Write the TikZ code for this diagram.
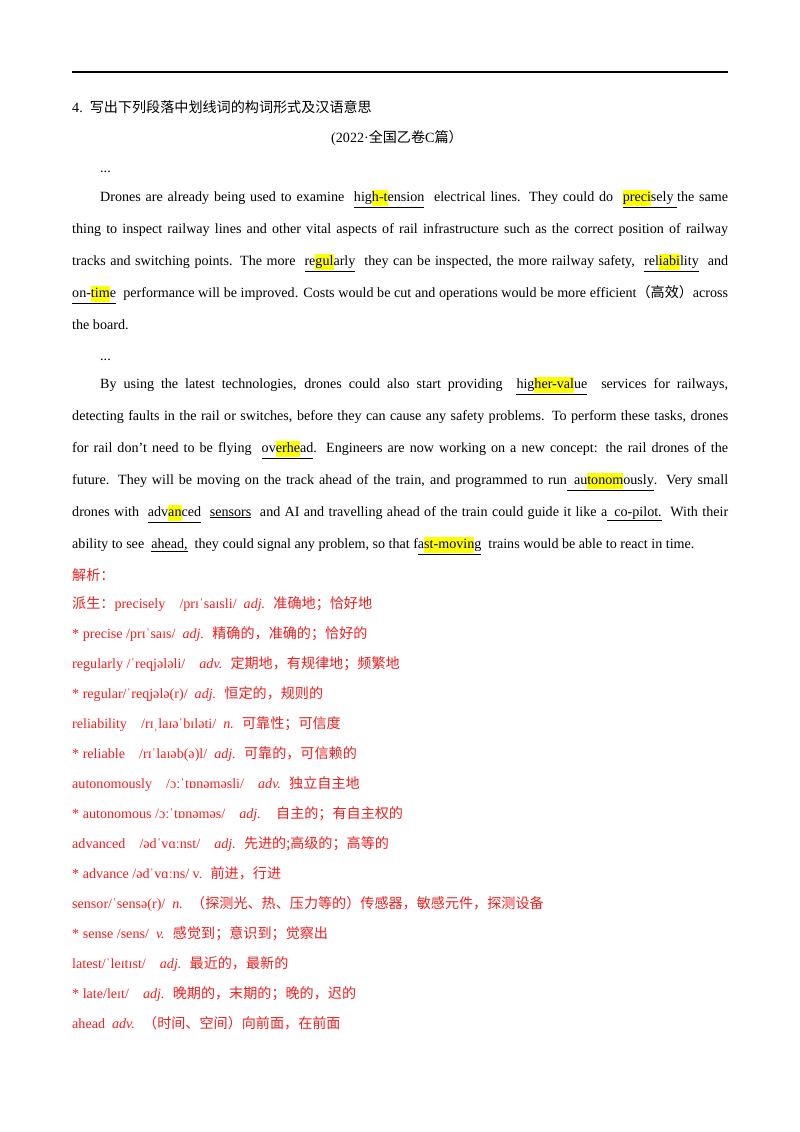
\documentclass[tikz,border=0pt]{standalone}
\usepackage{fontspec}
\setmainfont{Liberation Serif}
\newfontfamily\cjk{Noto Sans CJK SC}[Scale=1.0]
\definecolor{hly}{RGB}{255,255,0}
\definecolor{ans}{RGB}{240,30,30}
\newcommand{\hlx}[1]{{\setlength\fboxsep{0pt}\colorbox{hly}{\strut #1}}}
\newcommand{\zh}[1]{{\cjk #1}}
\newcommand{\ul}[1]{\underline{#1}}
\begin{document}
\begin{tikzpicture}[x=1pt,y=-1pt,
  ln/.style={anchor=base west,inner sep=0pt,font=\fontsize{14.1}{16}\selectfont},
  an/.style={ln,text=ans}]
\useasboundingbox (0,0) rectangle (800,1132);
\draw[line width=1.6pt] (72,72) coordinate (r1) -- (728,72) coordinate (r2);
\node[ln] (h1) at (72,112) {4.\ \ \zh{写出下列段落中划线词的构词形式及汉语意思}};
\node[ln,anchor=base] (h2) at (397,142) {(2022·\zh{全国乙卷}C\zh{篇）}};
\node[ln] (d1) at (100,172) {...};
\node[ln] (p1) at (72,201) {\makebox[656pt][s]{\hspace*{28pt}Drones are already being used to examine \ \ul{hig\hlx{h-t}ension} \ electrical lines. They could do \ \ul{\hlx{preci}sely\ }the same}};
\node[ln] (p2) at (72,233) {\makebox[656pt][s]{thing to inspect railway lines and other vital aspects of rail infrastructure such as the correct position of railway}};
\node[ln] (p3) at (72,265) {\makebox[656pt][s]{tracks and switching points. The more \ \ul{re\hlx{gul}arly} \ they can be inspected, the more railway safety, \ \ul{rel\hlx{iabi}lity} \ and}};
\node[ln] (p4) at (72,297) {\makebox[656pt][s]{\ul{on-\hlx{tim}e} \ performance will be improved. Costs would be cut and operations would be more efficient\zh{（高效）}across}};
\node[ln] (p5) at (72,329) {the board.};
\node[ln] (d2) at (100,360) {...};
\node[ln] (q1) at (72,388) {\makebox[656pt][s]{\hspace*{28pt}By using the latest technologies, drones could also start providing \ \ul{hig\hlx{her-val}ue} \ services for railways,}};
\node[ln] (q2) at (72,420) {\makebox[656pt][s]{detecting faults in the rail or switches, before they can cause any safety problems. To perform these tasks, drones}};
\node[ln] (q3) at (72,452) {\makebox[656pt][s]{for rail don't need to be flying \ \ul{ov\hlx{erhe}ad}. Engineers are now working on a new concept: the rail drones of the}};
\node[ln] (q4) at (72,484) {\makebox[656pt][s]{future. They will be moving on the track ahead of the train, and programmed to run\ul{\ \ au\hlx{tonom}ously}. Very small}};
\node[ln] (q5) at (72,516) {\makebox[656pt][s]{drones with \ \ul{adv\hlx{an}ced} \ \ul{sensors} \ and AI and travelling ahead of the train could guide it like a\ul{\ \ co-pilot.} \ With their}};
\node[ln] (q6) at (72,548) {ability to see \ \ul{ahead,} \ they could signal any problem, so that f\ul{a\hlx{st-movin}g} \ trains would be able to react in time.};
\node[an] (a0) at (72,580) {\zh{解析：}};
\node[an] (a1) at (72,608) {\zh{派生：}precisely \ \ \ /prɪˈsaɪsli/ \ \textit{adj.} \ \zh{准确地；恰好地}};
\node[an] (a2) at (72,638) {* precise /prɪˈsaɪs/ \ \textit{adj.} \ \zh{精确的，准确的；恰好的}};
\node[an] (a3) at (72,668) {regularly /ˈreqjələli/ \ \ \ \textit{adv.} \ \zh{定期地，有规律地；频繁地}};
\node[an] (a4) at (72,698) {* regular/ˈreqjələ(r)/ \ \textit{adj.} \ \zh{恒定的，规则的}};
\node[an] (a5) at (72,728) {reliability \ \ \ /rɪˌlaɪəˈbɪləti/ \ \textit{n.} \ \zh{可靠性；可信度}};
\node[an] (a6) at (72,758) {* reliable \ \ \ /rɪˈlaɪəb(ə)l/ \ \textit{adj.} \ \zh{可靠的，可信赖的}};
\node[an] (a7) at (72,788) {autonomously \ \ \ /ɔːˈtɒnəməsli/ \ \ \ \textit{adv.} \ \zh{独立自主地}};
\node[an] (a8) at (72,818) {* autonomous /ɔːˈtɒnəməs/ \ \ \ \textit{adj.} \ \ \ \zh{自主的；有自主权的}};
\node[an] (a9) at (72,848) {advanced \ \ \ /ədˈvɑːnst/ \ \ \ \textit{adj.} \ \zh{先进的;高级的；高等的}};
\node[an] (a10) at (72,878) {* advance /ədˈvɑːns/ v. \ \zh{前进，行进}};
\node[an] (a11) at (72,908) {sensor/ˈsensə(r)/ \ \textit{n.} \ \zh{（探测光、热、压力等的）传感器，敏感元件，探测设备}};
\node[an] (a12) at (72,938) {* sense /sens/ \ \textit{v.} \ \zh{感觉到；意识到；觉察出}};
\node[an] (a13) at (72,968) {latest/ˈleɪtɪst/ \ \ \ \textit{adj.} \ \zh{最近的，最新的}};
\node[an] (a14) at (72,998) {* late/leɪt/ \ \ \ \textit{adj.} \ \zh{晚期的，末期的；晚的，迟的}};
\node[an] (a15) at (72,1028) {ahead \ \textit{adv.} \ \zh{（时间、空间）向前面，在前面}};
\end{tikzpicture}
\end{document}
